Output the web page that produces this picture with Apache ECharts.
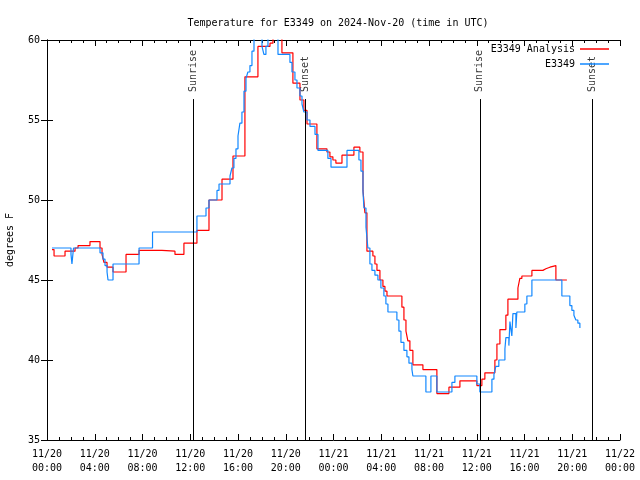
<!DOCTYPE html>
<html>
<head>
<meta charset="utf-8">
<script src="https://cdn.jsdelivr.net/npm/echarts@6/dist/echarts.min.js"></script>
<style>html,body{margin:0;padding:0;background:#fff;}#c{width:640px;height:480px;}</style>
</head>
<body>
<div id="c"></div>
<script>
// hours since 2024-11-20 00:00 UTC
const analysisHours = [0.42,0.59,1.51,2.35,2.60,3.60,4.44,4.61,4.77,5.03,5.53,6.62,7.71,9.63,10.72,11.47,12.56,13.57,14.66,15.58,16.58,17.67,18.68,18.93,19.68,20.60,21.19,21.52,21.78,22.61,23.45,23.70,23.95,24.20,24.71,25.71,26.21,26.47,26.63,26.80,27.30,27.47,27.64,27.89,28.14,28.31,28.48,29.73,29.90,30.07,30.23,30.40,30.65,31.49,32.66,33.67,34.59,36.01,36.43,36.68,37.52,37.69,37.94,38.44,38.61,39.45,39.61,39.78,40.62,41.54,41.79,42.13,42.63,43.55];
const analysisTemps = [46.9,46.5,46.8,47.0,47.15,47.4,47.0,46.6,46.1,45.8,45.5,46.6,46.85,46.8,46.6,47.3,48.1,50.0,51.3,52.75,57.7,59.6,59.8,60.3,59.2,57.3,56.25,55.6,54.75,53.2,53.0,52.7,52.5,52.3,52.8,53.3,53.0,50.6,49.2,46.8,46.5,46.0,45.6,45.0,44.6,44.3,44.0,43.3,42.5,41.8,41.2,40.6,39.7,39.4,37.9,38.3,38.7,38.4,38.8,39.2,40.0,41.0,41.9,42.8,43.8,44.5,45.1,45.25,45.6,45.7,45.8,45.9,45.0,45.0];

const obsHours = [0.42,2.01,2.09,2.22,4.44,4.69,4.86,5.03,5.11,5.53,7.71,8.84,12.56,13.32,13.57,14.24,14.41,15.33,15.49,15.66,15.83,16.00,16.16,16.33,16.50,16.67,16.83,17.00,17.17,17.34,18.01,18.17,18.34,18.51,19.35,20.35,20.52,20.77,20.94,21.19,21.36,21.52,21.78,22.03,22.45,22.70,23.53,23.79,25.13,26.13,26.30,26.47,26.55,26.72,26.88,27.05,27.22,27.47,27.72,27.97,28.22,28.39,28.56,29.31,29.48,29.65,29.90,30.15,30.32,30.57,30.65,31.74,32.16,32.66,33.92,34.17,36.01,36.26,37.27,37.44,37.60,37.85,38.36,38.44,38.69,38.78,38.94,39.03,39.28,39.36,40.03,40.20,40.62,43.13,43.80,43.97,44.14,44.30,44.47,44.64];
const obsTemps = [47.0,46.6,46.0,47.0,46.7,46.3,45.9,45.5,45.0,46.0,47.0,48.0,49.0,49.5,50.0,50.6,51.0,51.5,52.0,52.6,53.2,54.0,54.8,55.5,56.8,57.6,58.0,58.4,59.3,60.4,59.6,59.1,59.6,60.4,59.1,58.6,58.0,57.5,57.0,56.5,56.0,55.5,55.0,54.6,54.1,53.1,52.6,52.05,53.1,52.5,51.8,50.5,49.5,48.3,47.0,46.0,45.6,45.3,45.0,44.5,44.0,43.5,43.0,42.5,41.8,41.1,40.6,40.2,39.8,39.4,39.0,38.0,39.0,38.0,38.6,39.0,38.5,38.0,38.8,39.1,39.6,40.0,40.7,41.4,40.9,42.4,41.5,42.9,42.0,43.0,43.5,44.0,45.0,44.0,43.4,43.1,42.8,42.5,42.3,42.0];

const sunEventNames = ['Sunrise','Sunset','Sunrise','Sunset'];
const sunEventHours = [12.23,21.61,36.26,45.65];

const xTickLabels = ['11/20\n00:00','11/20\n04:00','11/20\n08:00','11/20\n12:00','11/20\n16:00','11/20\n20:00','11/21\n00:00','11/21\n04:00','11/21\n08:00','11/21\n12:00','11/21\n16:00','11/21\n20:00','11/22\n00:00'];

const FONT = 'DejaVu Sans Mono';
const zip = (a,b) => a.map((v,i)=>[v,b[i]]);

const chart = echarts.init(document.getElementById('c'), null, {renderer:'canvas'});
const lineTop = 56.31, labelAnchor = 56.75;

const tickCommon = {
  axisLine:{show:true,lineStyle:{color:'#000',width:1}},
  axisTick:{show:true,inside:true,length:6,lineStyle:{color:'#000'}},
  splitLine:{show:false}
};
const legendCommon = {orient:'horizontal',right:26,align:'right',icon:'rect',itemWidth:29,itemHeight:1.5,
  textStyle:{fontFamily:FONT,fontSize:10,color:'#000',padding:[0,0,0,0]}};

chart.setOption({
  animation:false,
  backgroundColor:'#fff',
  title:{text:'Temperature for E3349 on 2024-Nov-20 (time in UTC)',left:333,top:13,textAlign:'center',
    textStyle:{fontFamily:FONT,fontSize:10,fontWeight:'normal',color:'#000'}},
  legend:[
    Object.assign({data:['E3349 Analysis'],top:39},legendCommon),
    Object.assign({data:['E3349'],top:54},legendCommon)
  ],
  grid:{left:47,right:20,top:40,bottom:40,containLabel:false,outerBoundsMode:'none'},
  xAxis:[
    Object.assign({type:'value',min:0,max:48,interval:4,position:'bottom',
      minorTick:{show:true,splitNumber:4,length:3,lineStyle:{color:'#000'}},
      axisLabel:{fontFamily:FONT,fontSize:10,color:'#000',margin:7,lineHeight:14,
        formatter:v=>xTickLabels[Math.round(v/4)]}},tickCommon),
    Object.assign({type:'value',min:0,max:48,interval:4,position:'top',
      minorTick:{show:true,splitNumber:4,length:3,lineStyle:{color:'#000'}},
      axisLabel:{show:false}},tickCommon)
  ],
  yAxis:[
    Object.assign({type:'value',min:35,max:60,interval:5,position:'left',
      name:'degrees F',nameLocation:'middle',nameGap:32,nameRotate:90,
      nameTextStyle:{fontFamily:FONT,fontSize:10,color:'#000'},
      axisLabel:{fontFamily:FONT,fontSize:10,color:'#000',margin:7}},tickCommon),
    Object.assign({type:'value',min:35,max:60,interval:5,position:'right',
      axisLabel:{show:false}},tickCommon)
  ],
  series:[
    {name:'E3349 Analysis',type:'line',step:'end',data:zip(analysisHours,analysisTemps),
      showSymbol:false,symbol:'none',clip:true,lineStyle:{color:'#ff0000',width:1.2},itemStyle:{color:'#ff0000'}},
    {name:'E3349',type:'line',step:'end',data:zip(obsHours,obsTemps),
      showSymbol:false,symbol:'none',clip:true,lineStyle:{color:'#1288ff',width:1.2},itemStyle:{color:'#1288ff'}},
    {name:'sun',type:'scatter',symbolSize:0,silent:true,
      data:sunEventHours.map((h,i)=>({value:[h,labelAnchor],name:sunEventNames[i]})),
      label:{show:true,position:'inside',rotate:90,align:'left',verticalAlign:'middle',
        formatter:p=>p.name,fontFamily:FONT,fontSize:10,color:'#000'},
      markLine:{silent:true,symbol:'none',animation:false,
        lineStyle:{color:'#000',width:1,type:'solid'},label:{show:false},
        data:sunEventHours.map(h=>[{coord:[h,35]},{coord:[h,lineTop]}])}
    }
  ]
});
</script>
</body>
</html>
